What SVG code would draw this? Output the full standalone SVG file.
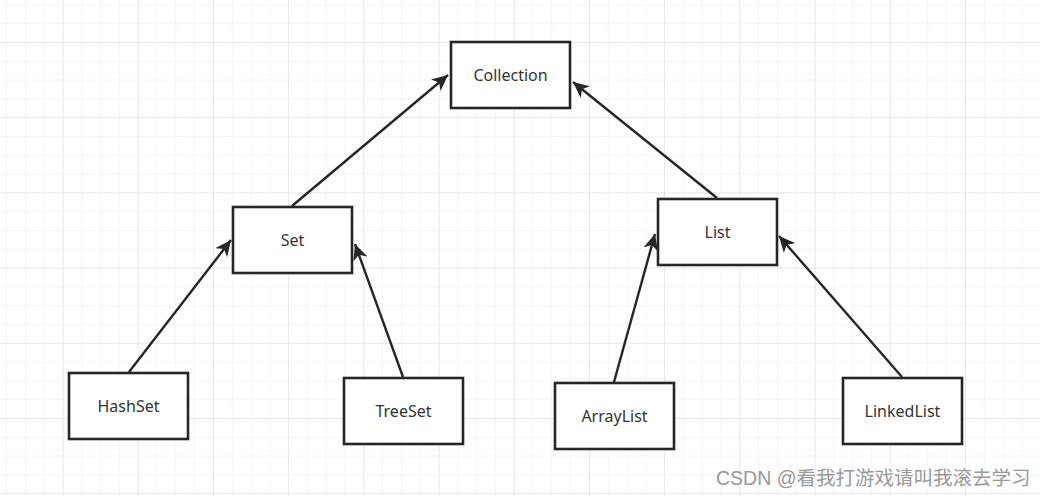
<svg xmlns="http://www.w3.org/2000/svg" width="1040" height="496" viewBox="0 0 1040 496">
<defs>
<pattern id="minor" x="6.1" y="4.4" width="18.8" height="18.8" patternUnits="userSpaceOnUse">
<path d="M0,0 H18.8 M0,0 V18.8" fill="none" stroke="#ebebeb" stroke-width="1"/>
</pattern>
<pattern id="major" x="62.5" y="42" width="75.2" height="75.2" patternUnits="userSpaceOnUse">
<path d="M0,0 H75.2 M0,0 V75.2" fill="none" stroke="#dcdcdc" stroke-width="1"/>
</pattern>
<marker id="arr" markerUnits="userSpaceOnUse" markerWidth="17" markerHeight="15" refX="16" refY="7.5" orient="auto">
<path d="M0,0 L16,7.5 L0,15 L4.5,7.5 Z" fill="#262626"/>
</marker>
<style>
.box rect{fill:#ffffff;stroke:#262626;stroke-width:2.6}
.box text{font-family:"Noto Sans","Liberation Sans",sans-serif;font-size:16px;fill:#333333;text-anchor:middle;dominant-baseline:central}
.edge{stroke:#262626;stroke-width:2.4;fill:none;marker-end:url(#arr)}
.wm{font-family:"Liberation Sans","Noto Sans CJK SC",sans-serif;font-size:19.5px;fill:#999999}
</style>
</defs>
<rect width="1040" height="496" fill="#ffffff"/>
<rect width="1040" height="496" fill="url(#minor)"/>
<rect width="1040" height="496" fill="url(#major)"/>
<g id="connectors">
<line class="edge" x1="292" y1="206" x2="448" y2="75"/>
<line class="edge" x1="717" y1="198" x2="573" y2="82"/>
<line class="edge" x1="129" y1="372" x2="231" y2="240"/>
<line class="edge" x1="403" y1="377" x2="355" y2="244"/>
<line class="edge" x1="614" y1="382" x2="655" y2="234"/>
<line class="edge" x1="902" y1="377" x2="779" y2="236"/>
</g>
<g id="collection" class="box"><rect x="451" y="42" width="119" height="66"/><text x="510.5" y="75">Collection</text></g>
<g id="set" class="box"><rect x="233" y="207" width="119" height="66"/><text x="292.5" y="240">Set</text></g>
<g id="list" class="box"><rect x="658" y="199" width="119" height="66"/><text x="717.5" y="232">List</text></g>
<g id="hashset" class="box"><rect x="69" y="373" width="119" height="66"/><text x="128.5" y="406">HashSet</text></g>
<g id="treeset" class="box"><rect x="344" y="378" width="119" height="66"/><text x="403.5" y="411">TreeSet</text></g>
<g id="arraylist" class="box"><rect x="555" y="383" width="119" height="66"/><text x="614.5" y="416">ArrayList</text></g>
<g id="linkedlist" class="box"><rect x="843" y="378" width="119" height="66"/><text x="902.5" y="411">LinkedList</text></g>
<text class="wm" x="716" y="485">CSDN @看我打游戏请叫我滚去学习</text>
</svg>
